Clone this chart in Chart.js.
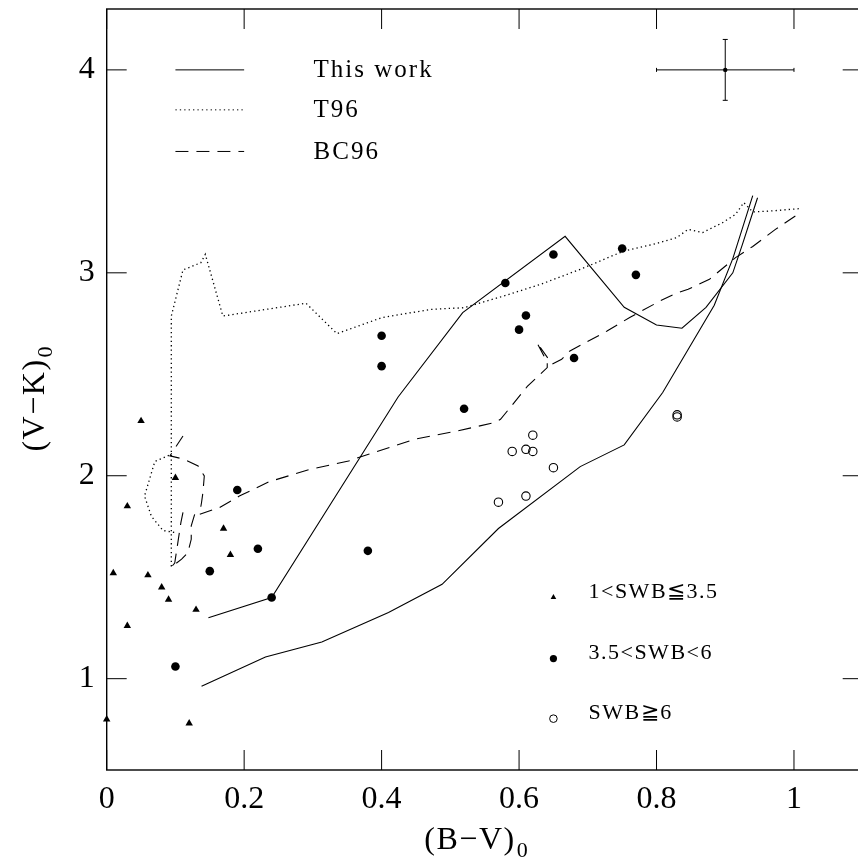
<!DOCTYPE html>
<html>
<head>
<meta charset="utf-8">
<script src="https://cdn.jsdelivr.net/npm/chart.js@4"></script>
<style>
html, body { margin: 0; padding: 0; background: #fff; overflow: hidden; }
canvas { display: block; }
</style>
</head>
<body>
<canvas id="grafico" width="868" height="865"></canvas>
<script>
// dados: (B-V)0 , (V-K)0
const triangulos = [[0.0, 0.80], [0.0096, 1.52], [0.03, 1.85], [0.03, 1.26], [0.05, 2.27], [0.06, 1.51],
    [0.08, 1.45], [0.09, 1.39], [0.10, 1.99], [0.12, 0.78], [0.13, 1.34], [0.17, 1.74], [0.18, 1.61]];

const cheios = [[0.10, 1.06], [0.15, 1.53], [0.19, 1.93], [0.22, 1.64], [0.24, 1.40], [0.38, 1.63],
    [0.40, 2.69], [0.40, 2.54], [0.52, 2.33], [0.58, 2.95], [0.60, 2.72], [0.61, 2.79], [0.65, 3.09],
    [0.68, 2.58], [0.75, 3.12], [0.77, 2.99]];

const abertos = [[0.57, 1.87], [0.59, 2.12], [0.61, 1.90], [0.61, 2.13], [0.62, 2.12], [0.62, 2.20],
    [0.65, 2.04], [0.83, 2.29], [0.83, 2.30]];

// "This work" (duas curvas)
const esteTrabalhoA = [[0.148, 1.30], [0.24, 1.40], [0.424, 2.388], [0.518, 2.804], [0.667, 3.18],
    [0.753, 2.83], [0.80, 2.743], [0.837, 2.727], [0.872, 2.83], [0.911, 3.0], [0.925, 3.14], [0.947, 3.37]];
const esteTrabalhoB = [[0.138, 0.963], [0.231, 1.107], [0.313, 1.181], [0.41, 1.326], [0.488, 1.465],
    [0.570, 1.74], [0.689, 2.045], [0.753, 2.152], [0.809, 2.41], [0.884, 2.84], [0.911, 3.07], [0.94, 3.38]];

// T96 (pontilhada)
const t96 = [[1.007, 3.316], [0.964, 3.304], [0.94, 3.30], [0.927, 3.346], [0.915, 3.288], [0.896, 3.247],
    [0.867, 3.198], [0.846, 3.214], [0.829, 3.173], [0.795, 3.14], [0.752, 3.107], [0.689, 3.017],
    [0.631, 2.943], [0.578, 2.886], [0.52, 2.828], [0.472, 2.82], [0.40, 2.779], [0.335, 2.70],
    [0.29, 2.85], [0.169, 2.787], [0.1435, 3.091], [0.137, 3.05], [0.111, 3.014], [0.094, 2.787], [0.094, 1.548]];
const t96Laco = [[0.0905, 2.10], [0.07, 2.07], [0.055, 1.90], [0.065, 1.80], [0.082, 1.73], [0.099, 1.72]];

// BC96 (tracejada)
const bc96 = [[1.002, 3.28], [0.973, 3.214], [0.94, 3.13], [0.915, 3.075], [0.877, 2.968], [0.846, 2.919],
    [0.829, 2.90], [0.805, 2.861], [0.761, 2.78], [0.728, 2.713], [0.699, 2.66], [0.674, 2.615],
    [0.662, 2.574], [0.648, 2.55], [0.626, 2.656], [0.641, 2.56], [0.641, 2.533], [0.612, 2.44],
    [0.573, 2.278], [0.564, 2.262], [0.511, 2.221], [0.448, 2.18], [0.381, 2.106], [0.352, 2.073],
    [0.294, 2.03], [0.236, 1.97], [0.193, 1.90], [0.164, 1.843], [0.135, 1.81], [0.138, 1.868],
    [0.140, 1.917], [0.142, 1.999], [0.133, 2.048], [0.113, 2.081], [0.092, 2.098], [0.111, 2.196]];
const bc96Ramo = [[0.111, 1.82], [0.108, 1.77], [0.099, 1.57], [0.094, 1.55], [0.109, 1.589],
    [0.118, 1.62], [0.123, 1.687], [0.123, 1.753], [0.128, 1.81]];

// barra de erro típica
const erroCentro = [0.9, 4.0];
const erroX = 0.1;
const erroY = 0.15;

// eixos
const xMaiores = [0, 0.2, 0.4, 0.6, 0.8, 1];
const xRotulos = ["0", "0.2", "0.4", "0.6", "0.8", "1"];
const yMaiores = [1, 2, 3, 4];
const yRotulos = ["1", "2", "3", "4"];
const xPassoMenor = 0.05;
const yPassoMenor = 0.2;

const legendaLinhas = ["This work", "T96", "BC96"];
const legendaPontos = ["1<SWB\u22663.5", "3.5<SWB<6", "SWB\u22676"];

const FONTE = "'Liberation Serif', 'DejaVu Serif', serif";
const pts = a => a.map(p => ({ x: p[0], y: p[1] }));

function sequencia(ini, fim, passo) {
    const out = [];
    for (let i = 0; ini + i * passo <= fim + 1e-9; i++) out.push(+(ini + i * passo).toFixed(4));
    return out;
}
const eMaior = (v, lista) => lista.some(m => Math.abs(m - v) < 1e-6);

function linha(ctx, x1, y1, x2, y2) {
    ctx.beginPath();
    ctx.moveTo(x1, y1);
    ctx.lineTo(x2, y2);
    ctx.stroke();
}

function semMargens(s) {
    s.paddingTop = 0;
    s.paddingBottom = 0;
    s.paddingLeft = 0;
    s.paddingRight = 0;
}

const moldura = {
    id: "moldura",
    afterDraw(chart) {
        const { ctx, chartArea: a, scales: { x, y } } = chart;
        ctx.save();
        ctx.strokeStyle = "#000";
        ctx.fillStyle = "#000";
        ctx.lineWidth = 1.4;
        ctx.strokeRect(a.left, a.top, a.right - a.left, a.bottom - a.top);

        ctx.lineWidth = 1;
        x.ticks.forEach(t => {
            const px = x.getPixelForValue(t.value);
            const len = eMaior(t.value, xMaiores) ? 20 : 10;
            linha(ctx, px, a.bottom, px, a.bottom - len);
            linha(ctx, px, a.top, px, a.top + len);
        });
        y.ticks.forEach(t => {
            const py = y.getPixelForValue(t.value);
            const len = eMaior(t.value, yMaiores) ? 20 : 10;
            linha(ctx, a.left, py, a.left + len, py);
            linha(ctx, a.right, py, a.right - len, py);
        });

        // barra de erro
        const ex = x.getPixelForValue(erroCentro[0]);
        const ey = y.getPixelForValue(erroCentro[1]);
        const x1 = x.getPixelForValue(erroCentro[0] - erroX);
        const x2 = x.getPixelForValue(erroCentro[0] + erroX);
        const y1 = y.getPixelForValue(erroCentro[1] + erroY);
        const y2 = y.getPixelForValue(erroCentro[1] - erroY);
        linha(ctx, x1, ey, x2, ey);
        linha(ctx, ex, y1, ex, y2);
        linha(ctx, x1, ey - 2, x1, ey + 2);
        linha(ctx, x2, ey - 2, x2, ey + 2);
        linha(ctx, ex - 2.5, y1, ex + 2.5, y1);
        linha(ctx, ex - 2.5, y2, ex + 2.5, y2);
        ctx.beginPath();
        ctx.arc(ex, ey, 2.2, 0, Math.PI * 2);
        ctx.fill();

        // legenda das linhas
        const estilos = [[], [1.3, 3.1], [13, 8]];
        const lx1 = x.getPixelForValue(0.1), lx2 = x.getPixelForValue(0.2);
        const ly = [4.0, 3.803, 3.598].map(v => y.getPixelForValue(v));
        ctx.font = "25px " + FONTE;
        ctx.letterSpacing = "2px";
        ctx.textBaseline = "middle";
        ctx.textAlign = "left";
        legendaLinhas.forEach((txt, i) => {
            ctx.setLineDash(estilos[i]);
            linha(ctx, lx1, ly[i], lx2, ly[i]);
            ctx.setLineDash([]);
            ctx.fillText(txt, x.getPixelForValue(0.301), ly[i] + 1);
        });

        // legenda dos símbolos
        const mx = x.getPixelForValue(0.65);
        const my = [1.402, 1.099, 0.803].map(v => y.getPixelForValue(v));
        ctx.beginPath();
        ctx.moveTo(mx, my[0] - 3);
        ctx.lineTo(mx + 2.8, my[0] + 2);
        ctx.lineTo(mx - 2.8, my[0] + 2);
        ctx.closePath();
        ctx.fill();
        ctx.beginPath();
        ctx.arc(mx, my[1], 3.6, 0, Math.PI * 2);
        ctx.fill();
        ctx.beginPath();
        ctx.arc(mx, my[2], 3.8, 0, Math.PI * 2);
        ctx.stroke();
        ctx.font = "22px " + FONTE;
        ctx.letterSpacing = "1.5px";
        const tx = x.getPixelForValue(0.701);
        legendaPontos.forEach((txt, i) => ctx.fillText(txt, tx, my[i] - 5));

        // títulos dos eixos
        ctx.textAlign = "left";
        ctx.textBaseline = "alphabetic";
        ctx.font = "32px " + FONTE;
        ctx.letterSpacing = "1.5px";
        const tituloX = "(B\u2212V)";
        const wX = ctx.measureText(tituloX).width;
        const cx = 470;
        ctx.fillText(tituloX, cx - wX / 2, 849);
        ctx.font = "22px " + FONTE;
        ctx.fillText("0", cx + wX / 2 + 1, 857);

        ctx.save();
        ctx.translate(44, 400);
        ctx.rotate(-Math.PI / 2);
        ctx.font = "32px " + FONTE;
        const tituloY = "(V\u2212K)";
        const wY = ctx.measureText(tituloY).width;
        ctx.fillText(tituloY, -wY / 2 - 5, 0);
        ctx.font = "22px " + FONTE;
        ctx.fillText("0", wY / 2 - 4, 8);
        ctx.restore();

        ctx.restore();
    }
};

const xTicks = sequencia(0, 1.05, xPassoMenor);
const yTicks = sequencia(0.6, 4.2, yPassoMenor);

const linhaBase = { showLine: true, pointRadius: 0, borderColor: "#000", borderWidth: 1.1, tension: 0, fill: false };
const pontilhada = [1.3, 3.1];
const tracejada = [13, 8];

new Chart(document.getElementById("grafico"), {
    type: "scatter",
    data: {
        datasets: [
            { label: "1<SWB≦3.5", data: pts(triangulos), pointStyle: "triangle", pointRadius: 4.3,
              backgroundColor: "#000", borderColor: "#000", borderWidth: 0, clip: false },
            { label: "3.5<SWB<6", data: pts(cheios), pointStyle: "circle", pointRadius: 4.3,
              backgroundColor: "#000", borderColor: "#000", borderWidth: 0, clip: false },
            { label: "SWB≧6", data: pts(abertos), pointStyle: "circle", pointRadius: 4.2,
              backgroundColor: "rgba(0,0,0,0)", borderColor: "#000", borderWidth: 1.1, clip: false },
            { ...linhaBase, label: "This work", data: pts(esteTrabalhoA) },
            { ...linhaBase, label: "This work b", data: pts(esteTrabalhoB) },
            { ...linhaBase, label: "T96", data: pts(t96), borderDash: pontilhada, borderWidth: 1.3 },
            { ...linhaBase, label: "T96 b", data: pts(t96Laco), borderDash: pontilhada, borderWidth: 1.3 },
            { ...linhaBase, label: "BC96", data: pts(bc96), borderDash: tracejada },
            { ...linhaBase, label: "BC96 b", data: pts(bc96Ramo), borderDash: tracejada }
        ]
    },
    options: {
        responsive: false,
        animation: false,
        devicePixelRatio: 1,
        layout: { padding: { top: 9, right: 1, left: 0, bottom: 0 } },
        plugins: { legend: { display: false }, tooltip: { enabled: false } },
        scales: {
            x: {
                type: "linear", min: 0, max: 1.1,
                afterBuildTicks: s => { s.ticks = xTicks.map(v => ({ value: v })); },
                afterFit: s => { s.height = 95; semMargens(s); },
                grid: { display: false, drawTicks: false },
                border: { display: false },
                ticks: {
                    padding: 10, color: "#000", font: { family: FONTE, size: 32 },
                    maxRotation: 0, autoSkip: false,
                    callback: v => { const i = xMaiores.findIndex(m => Math.abs(m - v) < 1e-6); return i >= 0 ? xRotulos[i] : null; }
                }
            },
            y: {
                type: "linear", min: 0.55, max: 4.3,
                afterBuildTicks: s => { s.ticks = yTicks.map(v => ({ value: v })); },
                afterFit: s => { s.width = 106.7; semMargens(s); },
                grid: { display: false, drawTicks: false },
                border: { display: false },
                ticks: {
                    padding: 12, color: "#000", font: { family: FONTE, size: 32 },
                    autoSkip: false,
                    callback: v => { const i = yMaiores.findIndex(m => Math.abs(m - v) < 1e-6); return i >= 0 ? yRotulos[i] : null; }
                }
            }
        }
    },
    plugins: [moldura]
});
</script>
</body>
</html>
